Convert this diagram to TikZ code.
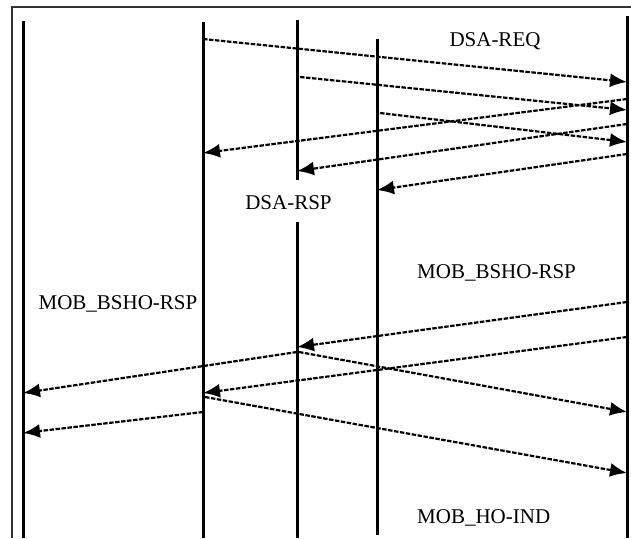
\documentclass[tikz,border=0pt]{standalone}
\usepackage{fontspec}
\setmainfont{Liberation Serif}
\usetikzlibrary{arrows.meta,calc,positioning}
\tikzset{
  lifeline/.style={black,line width=3pt},
  msg/.style={black,line width=2.2pt,dash pattern=on 4.5pt off 1.5pt,-{Latex[length=17pt,width=14pt]}},
  lbl/.style={font=\fontsize{21}{25}\selectfont,inner sep=0pt},
}
\begin{document}
\begin{tikzpicture}[x=1pt,y=-1pt]
% ==========================================
\useasboundingbox (0,0) rectangle (631,538);
\draw [gray!40!black,line width=2pt] (11.5,538) -- (11.5,6.5) -- (631,6.5);
%
\foreach \n/\x/\t/\b in {1/23/21/538,2/203/22/538,4/377/39/535,5/627/16/538}{
  \coordinate (L\n t) at (\x,\t);
  \coordinate (L\n b) at (\x,\b);
  \draw [lifeline] (L\n t) -- (L\n b);
}
\coordinate (L3t) at (297,20);
\coordinate (L3m) at (297,180);
\coordinate (L3n) at (297,222);
\coordinate (L3b) at (297,538);
\draw [lifeline] (L3t) -- (L3m);%Line broken by DSA-RSP.
\draw [lifeline] (L3n) -- (L3b);
% =============================================
\node [lbl,anchor=base] (req) at (495,46) {DSA-REQ};
\node [lbl,anchor=base] (rsp) at (288.5,209) {DSA-RSP};
\node [lbl,anchor=base west] (bshoR) at (417,278) {MOB\_BSHO-RSP};
\node [lbl,anchor=base] (bshoL) at (118,309) {MOB\_BSHO-RSP};
\node [lbl,anchor=base west] (hoind) at (417,523) {MOB\_HO-IND};
% =============================================
\foreach \n/\xa/\ya/\xb/\yb in {
  1/203/39/627/82, 2/300/77/627/110, 3/380/113/627/142,
  4/627/99/203/153, 5/627/124/297/171, 6/627/154/377/190,
  7/627/302/297/347, 8/627/337/203/393, 9/299/352/627/412,
  10/297/352/23/393, 11/205/397/627/473, 12/203/412/23/433}{
  \coordinate (m\n s) at (\xa,\ya);
  \coordinate (m\n e) at (\xb,\yb);
  \draw [msg] (m\n s) -- (m\n e);
}
% =============================================
\end{tikzpicture}
\end{document}
